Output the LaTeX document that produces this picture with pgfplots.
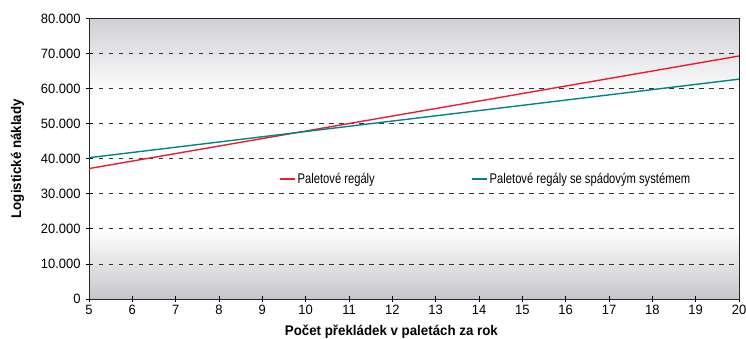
\documentclass[border=0pt]{standalone}
\usepackage{pgfplots}
\pgfplotsset{compat=1.18}
\usepackage{fontspec}
\setmainfont{Liberation Sans}[FakeStretch=0.8]
\newfontfamily\tickfont{Liberation Sans}[FakeStretch=0.96]
\newfontfamily\labelfont{Liberation Sans}[FakeStretch=0.95]
\definecolor{bgray}{RGB}{207,208,211}
\definecolor{lred}{RGB}{236,28,46}
\definecolor{lteal}{RGB}{0,132,134}
\begin{document}
\begin{tikzpicture}
\path[use as bounding box] (-89bp,-40bp) rectangle (657bp,299bp);
% plot-area background gradient (axis box is 650bp x 280.5bp at the origin)
\shade[top color=bgray, bottom color=white] (0bp,203.4bp) rectangle (650bp,280.5bp);
\shade[top color=white, bottom color=bgray!95!black] (0bp,0bp) rectangle (650bp,70.1bp);
\begin{axis}[
  at={(0,0)}, anchor=south west,
  scale only axis, width=650bp, height=280.5bp,
  xmin=5, xmax=20, ymin=0, ymax=80000,
  xtick={5,6,...,20},
  ytick={0,10000,...,80000},
  scaled y ticks=false,
  yticklabel style={xshift=-2bp, /pgf/number format/.cd, fixed, precision=0, 1000 sep={.}},
  /pgf/number format/assume math mode=true,
  tick label style={font=\tickfont\fontsize{13.5bp}{15bp}\selectfont, text=black},
  xtick pos=bottom, ytick pos=left,
  tick align=center,
  major tick length=6bp,
  tick style={black, line width=0.8pt},
  axis line style={black!85, line width=0.9pt},
  ymajorgrids,
  major grid style={black!80, dash pattern=on 4.5bp off 5.5bp, line width=0.8pt},
  xlabel={Počet překládek v paletách za rok},
  ylabel={Logistické náklady},
  every axis x label/.style={at={(axis description cs:0.4652,-0.1176)}, anchor=center,
    font=\labelfont\fontsize{14bp}{16bp}\selectfont\bfseries},
  every axis y label/.style={at={(axis description cs:-0.110,0.5)}, anchor=center, rotate=90,
    font=\labelfont\fontsize{14bp}{16bp}\selectfont\bfseries},
  legend columns=2,
  legend style={at={(axis description cs:0.2924,0.428)}, anchor=west, draw=none, fill=none, inner sep=0pt,
    font=\fontsize{14bp}{16bp}\selectfont, /tikz/every even column/.style={column sep=94.5bp}},
  legend image code/.code={\draw[#1] (0bp,0bp) -- (15bp,0bp);},
]
\addplot[lred, line width=1.4pt] coordinates {(5,37200) (20,69300)};
\addlegendentry{Paletové regály}
\addplot[lteal, line width=1.4pt] coordinates {(5,40300) (20,62700)};
\addlegendentry{Paletové regály se spádovým systémem}
\end{axis}
\end{tikzpicture}
\end{document}
